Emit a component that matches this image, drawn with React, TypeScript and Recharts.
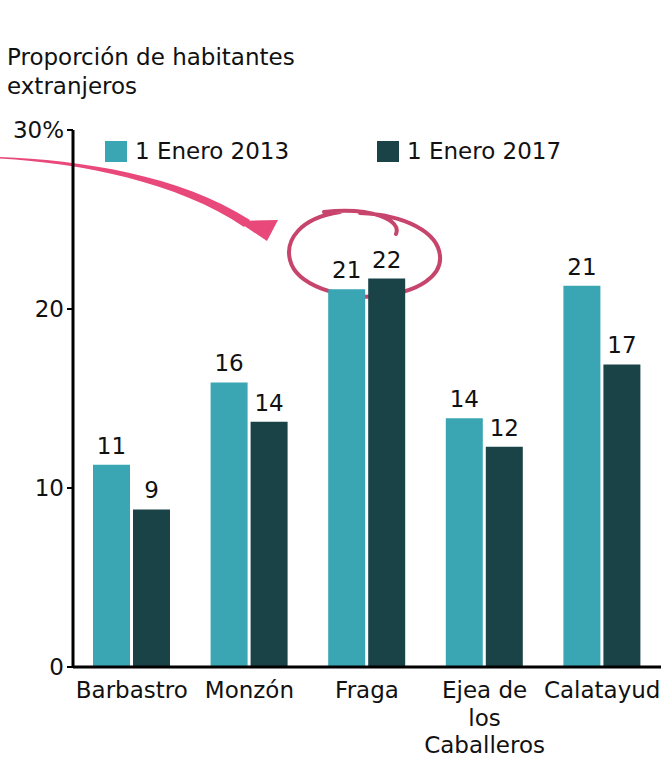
import React from "react";
import {
  BarChart,
  Bar,
  XAxis,
  YAxis,
  LabelList,
  Customized,
} from "recharts";

const municipios = ["Barbastro", "Monzón", "Fraga", "Ejea de los Caballeros", "Calatayud"];
const enero2013 = [11.3, 15.9, 21.1, 13.9, 21.3];
const enero2017 = [8.8, 13.7, 21.7, 12.3, 16.9];
const yTicks = [0, 10, 20, 30];

const TEAL = "#3AA6B4";
const DARK = "#1A4347";
const FONT = "'DejaVu Sans', Verdana, sans-serif";

const data = municipios.map((name, i) => ({
  name,
  v2013: enero2013[i],
  v2017: enero2017[i],
}));

// wrap long category names, same as the original
const wrapLines: Record<string, string[]> = {
  "Ejea de los Caballeros": ["Ejea de", "los", "Caballeros"],
};

const XTick = (props: any) => {
  const { x, y, payload } = props;
  const lines = wrapLines[payload.value] || [payload.value];
  return (
    <text x={x} y={y + 23} textAnchor="middle" fontSize={23} fontFamily={FONT} fill="#111">
      {lines.map((l: string, i: number) => (
        <tspan key={i} x={x} dy={i === 0 ? 0 : 27.5}>
          {l}
        </tspan>
      ))}
    </text>
  );
};

const legendItems = [
  { label: "1 Enero 2013", color: TEAL, left: 105 },
  { label: "1 Enero 2017", color: DARK, left: 377 },
];

// hand-drawn style highlight: arrow and circle around Fraga
const Annotations = () => (
  <g>
    <path
      d="M0,157 C80,160 180,175 250,220 L244,227 C178,182 80,163 0,158.5 Z"
      fill="#E8497A"
    />
    <polygon points="237,221 278,220 267,241" fill="#E8497A" />
    <path
      d="M324,212 C372,207 402,220 396,234 M340,212 C300,218 285,240 290,260 C296,285 340,300 380,296 C420,292 442,275 440,256 C438,232 405,215 360,213"
      fill="none"
      stroke="#C7456C"
      strokeWidth={4}
      strokeLinecap="round"
    />
  </g>
);

export default function App() {
  return (
    <div style={{ position: "absolute", left: 0, top: 0, width: 661, height: 757, background: "#fff" }}>
      <div
        style={{
          position: "absolute",
          left: 7,
          top: 43,
          fontFamily: FONT,
          fontSize: 23,
          lineHeight: "29px",
          color: "#111",
        }}
      >
        Proporción de habitantes
        <br />
        extranjeros
      </div>
      {legendItems.map((it) => (
        <div
          key={it.label}
          style={{
            position: "absolute",
            left: it.left,
            top: 138,
            display: "flex",
            alignItems: "center",
            fontFamily: FONT,
            fontSize: 23,
            color: "#111",
            zIndex: 2,
          }}
        >
          <span style={{ width: 22, height: 21, background: it.color, display: "inline-block", marginRight: 8 }} />
          <span>{it.label}</span>
        </div>
      ))}
      <BarChart
        width={661}
        height={757}
        data={data}
        margin={{ top: 130, right: 0, left: 0, bottom: 0 }}
        barGap={3}
        barCategoryGap={20}
      >
        <YAxis
          width={73}
          domain={[0, 30]}
          ticks={yTicks}
          interval={0}
          tickFormatter={(v: number) => (v === 30 ? "30%" : String(v))}
          tick={{ fontSize: 23, fontFamily: FONT, fill: "#111" }}
          axisLine={{ stroke: "#000", strokeWidth: 3 }}
          tickLine={{ stroke: "#000", strokeWidth: 2 }}
          tickSize={6}
          tickMargin={3}
        />
        <XAxis
          dataKey="name"
          height={90}
          interval={0}
          tick={<XTick />}
          axisLine={{ stroke: "#000", strokeWidth: 3 }}
          tickLine={false}
        />
        <Bar dataKey="v2013" fill={TEAL} isAnimationActive={false}>
          <LabelList
            dataKey="v2013"
            position="top"
            offset={11}
            formatter={(v: number) => Math.round(v)}
            style={{ fontSize: 23, fontFamily: FONT, fill: "#111" }}
          />
        </Bar>
        <Bar dataKey="v2017" fill={DARK} isAnimationActive={false}>
          <LabelList
            dataKey="v2017"
            position="top"
            offset={11}
            formatter={(v: number) => Math.round(v)}
            style={{ fontSize: 23, fontFamily: FONT, fill: "#111" }}
          />
        </Bar>
        <Customized component={Annotations} />
      </BarChart>
    </div>
  );
}
